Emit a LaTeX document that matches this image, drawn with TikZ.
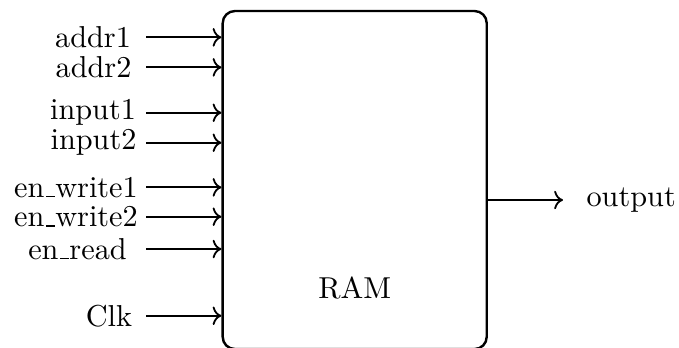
\documentclass[tikz,border=0pt]{standalone}
\usepackage{tikz}
\usetikzlibrary{arrows.meta, positioning}
% short low bar, as the old OT1 underscore
\newcommand{\lowbar}{\leavevmode\kern.06em\vbox{\hrule width.3em}}

\begin{document}
\begin{tikzpicture}[
  unit/.style={
    rectangle, rounded corners=4pt,
    minimum width=3.065cm, minimum height=3.924cm,
    draw, thick
  },
  signal/.style={inner sep=3.33pt},
  arrow/.style={->, semithick}
]
\useasboundingbox (0,0) rectangle (7.883,4.029);

% RAM block
\node[unit] (ram) at (4.118,1.939) {};
\node[signal, above=0.47cm of ram.south] (ramlabel) {RAM};

% Inputs
\coordinate (addr1in)  at (1.695,3.596);
\coordinate (addr2in)  at (1.695,3.247);
\coordinate (input1in) at (1.695,2.720);
\coordinate (input2in) at (1.695,2.372);
\coordinate (enw1in)   at (1.695,1.854);
\coordinate (enw2in)   at (1.695,1.513);
\coordinate (enrin)    at (1.695,1.138);
\coordinate (clkin)    at (1.695,0.363);

\node[signal] (addr1)  at (1.080,3.596) {addr1};
\node[signal] (addr2)  at (1.086,3.247) {addr2};
\node[signal] (input1) at (1.080,2.720) {input1};
\node[signal] (input2) at (1.086,2.372) {input2};
\node[signal] (enw1)   at (0.882,1.854) {en\lowbar write1};
\node[signal] (enw2)   at (0.882,1.513) {en\lowbar write2};
\node[signal] (enr)    at (0.900,1.138) {en\lowbar read};
\node[signal] (clk)    at (1.265,0.363) {Clk};

\foreach \s in {addr1in,addr2in,input1in,input2in,enw1in,enw2in,enrin,clkin}{
  \draw[arrow] (\s) -- (\s -| ram.west);
}

% Output
\coordinate (outend) at (6.536,1.707);
\draw[arrow] (outend -| ram.east) -- (outend);
\node[signal, right=0.15cm of outend] (output) {output};

\end{tikzpicture}
\end{document}
